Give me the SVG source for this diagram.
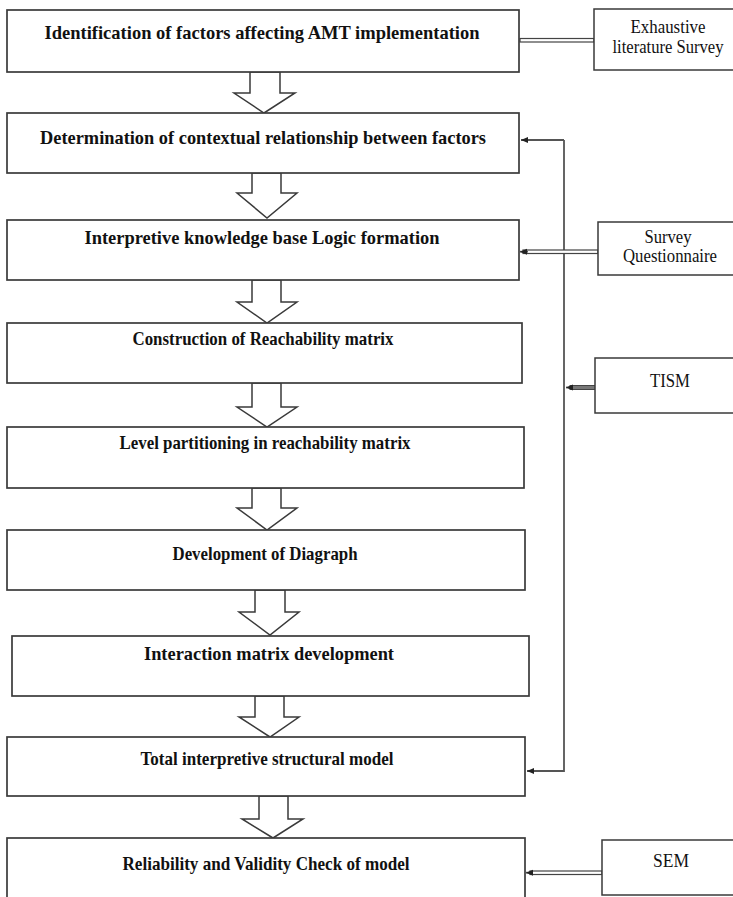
<svg xmlns="http://www.w3.org/2000/svg" width="733" height="897" viewBox="0 0 733 897">
<style>
.box{fill:#fff;stroke:#3a3a3a;stroke-width:1.7}
.side{fill:#fff;stroke:#3a3a3a;stroke-width:1.5}
.t{font-family:"Liberation Serif",serif;font-weight:bold;font-size:19.5px;fill:#111;text-anchor:middle}
.s{font-family:"Liberation Serif",serif;font-size:18px;fill:#111;text-anchor:middle}
.blk{fill:#fff;stroke:#3a3a3a;stroke-width:1.5;stroke-linejoin:miter}
.dbl{fill:#fff;stroke:#444;stroke-width:1.2}
.ln{fill:none;stroke:#555;stroke-width:1.8}
</style>
<defs>
<marker id="ah" markerWidth="8" markerHeight="8" refX="7" refY="4" orient="auto" markerUnits="userSpaceOnUse">
<path d="M0,1 L7,4 L0,7 z" fill="#222"/>
</marker>
</defs>
<rect width="733" height="897" fill="#fff"/>

<g id="connectors">
<polygon class="blk" points="250,72 280,72 280,93 295,93 264,113 234,93 250,93"/>
<polygon class="blk" points="252,173 281,173 281,193 297,193 267,218 237,193 252,193"/>
<polygon class="blk" points="252,280 281,280 281,302 297,302 267,323 237,302 252,302"/>
<polygon class="blk" points="252,383 281,383 281,407 297,407 267,427 237,407 252,407"/>
<polygon class="blk" points="252,488 281,488 281,508 297,508 267,530 237,508 252,508"/>
<polygon class="blk" points="255,590 285,590 285,612 299,612 270,635 239,612 255,612"/>
<polygon class="blk" points="255,696 284,696 284,717 299,717 270,737 239,717 255,717"/>
<polygon class="blk" points="259,796 288,796 288,819 303,819 273,838 242,819 259,819"/>
<polyline class="ln" points="564,140 564,771 527,771" marker-end="url(#ah)"/>
<line class="ln" x1="564" y1="140" x2="521" y2="140" marker-end="url(#ah)"/>
<rect class="dbl" x="520" y="38.5" width="74" height="3.5"/>
<rect class="dbl" x="523" y="250" width="75" height="3.5"/>
<line class="ln" x1="528" y1="251.7" x2="520" y2="251.7" marker-end="url(#ah)"/>
<rect x="570" y="385.5" width="26" height="4" fill="#777" stroke="#444" stroke-width="1"/>
<line class="ln" x1="572" y1="387.5" x2="566" y2="387.5" marker-end="url(#ah)"/>
<rect class="dbl" x="530" y="871" width="72" height="3.5"/>
<line class="ln" x1="533" y1="872.7" x2="526" y2="872.7" marker-end="url(#ah)"/>
</g>

<g id="n1"><rect class="box" x="7" y="10" width="512" height="62"/><text class="t" x="262" y="39" textLength="435" lengthAdjust="spacingAndGlyphs">Identification of factors affecting AMT implementation</text></g>
<g id="n2"><rect class="box" x="7" y="113" width="512" height="60"/><text class="t" x="263" y="144" textLength="446" lengthAdjust="spacingAndGlyphs">Determination of contextual relationship between factors</text></g>
<g id="n3"><rect class="box" x="7" y="220" width="512" height="60"/><text class="t" x="262" y="244" textLength="355" lengthAdjust="spacingAndGlyphs">Interpretive knowledge base Logic formation</text></g>
<g id="n4"><rect class="box" x="7" y="323" width="515" height="60"/><text class="t" x="263" y="345" textLength="261" lengthAdjust="spacingAndGlyphs">Construction of Reachability matrix</text></g>
<g id="n5"><rect class="box" x="7" y="427" width="517" height="61"/><text class="t" x="265" y="449" textLength="291" lengthAdjust="spacingAndGlyphs">Level partitioning in reachability matrix</text></g>
<g id="n6"><rect class="box" x="7" y="530" width="518" height="60"/><text class="t" x="265" y="560" textLength="185" lengthAdjust="spacingAndGlyphs">Development of Diagraph</text></g>
<g id="n7"><rect class="box" x="12" y="636" width="517" height="60"/><text class="t" x="269" y="660" textLength="250" lengthAdjust="spacingAndGlyphs">Interaction matrix development</text></g>
<g id="n8"><rect class="box" x="7" y="737" width="518" height="59"/><text class="t" x="267" y="765" textLength="253" lengthAdjust="spacingAndGlyphs">Total interpretive structural model</text></g>
<g id="n9"><rect class="box" x="7" y="838" width="518" height="70"/><text class="t" x="266" y="870" textLength="287" lengthAdjust="spacingAndGlyphs">Reliability and Validity Check of model</text></g>

<g id="s1"><rect class="side" x="594" y="9" width="150" height="61"/><text class="s" x="668" y="33" textLength="75" lengthAdjust="spacingAndGlyphs">Exhaustive</text><text class="s" x="668" y="53" textLength="111" lengthAdjust="spacingAndGlyphs">literature Survey</text></g>
<g id="s2"><rect class="side" x="598" y="222" width="150" height="53"/><text class="s" x="668" y="243" textLength="47" lengthAdjust="spacingAndGlyphs">Survey</text><text class="s" x="670" y="262" textLength="94" lengthAdjust="spacingAndGlyphs">Questionnaire</text></g>
<g id="s3"><rect class="side" x="595" y="358" width="150" height="55"/><text class="s" x="670" y="387" textLength="40" lengthAdjust="spacingAndGlyphs">TISM</text></g>
<g id="s4"><rect class="side" x="602" y="840" width="150" height="55"/><text class="s" x="671" y="867" textLength="36" lengthAdjust="spacingAndGlyphs">SEM</text></g>
</svg>
